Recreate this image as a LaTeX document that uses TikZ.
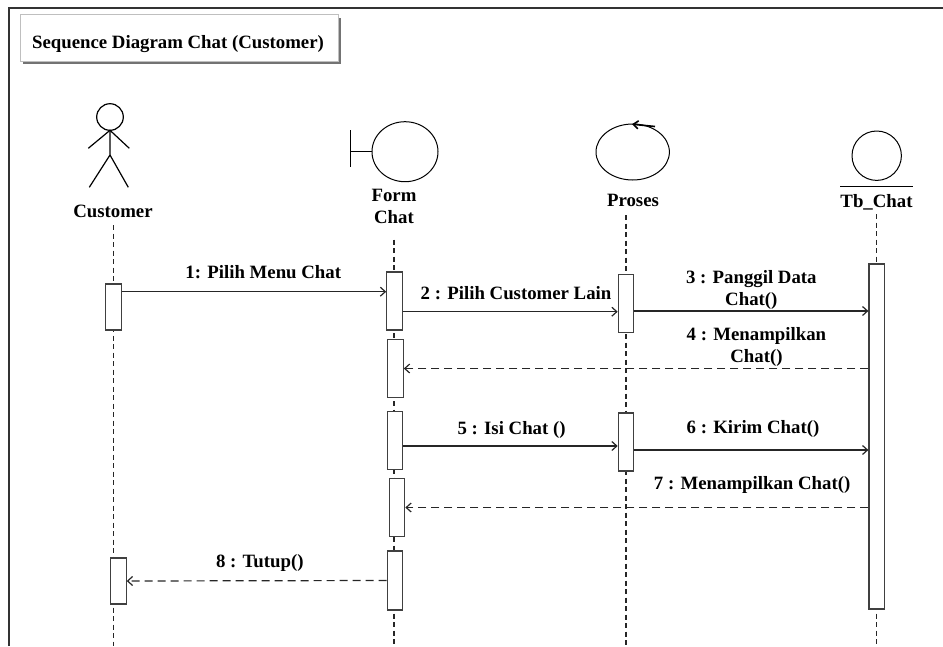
\documentclass[tikz,border=0pt]{standalone}
\usepackage{fontspec}
\setmainfont{Liberation Serif}
\usetikzlibrary{arrows.meta, backgrounds}
\tikzset{
  lbl/.style={font=\bfseries\fontsize{18.8}{21.5}\selectfont, align=center, inner sep=0pt, anchor=base},
  act/.style={draw=black!75, fill=white, line width=1.1pt, minimum width=15.5pt, inner sep=0pt},
  life/.style={draw=black!85, line width=1.1pt, dash pattern=on 5pt off 3.5pt},
  call/.style={draw=black!85, line width=1.2pt, -{Straight Barb[length=5pt,width=9pt]}},
  back/.style={call, dash pattern=on 8pt off 5pt},
  icon/.style={draw=black, line width=1.2pt}
}
\begin{document}
\begin{tikzpicture}[x=1pt, y=-1pt]
  \useasboundingbox (0,0) rectangle (943,646);
  \draw[black!80, line width=1.5pt] (9,646) -- (9,8) -- (943,8);
  \fill[black!55] (23,18) rectangle (341,64);
  \draw[black!25, fill=white] (20,14) rectangle (338,61);
  \node[lbl] (Title) at (178,48.3) {Sequence Diagram Chat (Customer)};

  \node[lbl] (Cust) at (113,217.7) {Customer};
  \node[lbl] (Form) at (394,223.3) {Form\\Chat};
  \node[lbl] (Proses) at (633,206.7) {Proses};
  \node[lbl] (Tb) at (876.5,207.3) {Tb\_Chat};
  \coordinate (bot) at (0,646);

  \draw[icon] (110,117) circle[radius=13.3];
  \draw[icon] (88.3,148.3) -- (110,130.3) -- (129.3,148.3);
  \draw[icon] (110,130.3) -- (110,155) -- (89.3,187.3);
  \draw[icon] (110,155) -- (128.3,187.3);
  \draw[icon, line width=1pt] (350,130) -- (350,167);
  \draw[icon, line width=1pt] (350,151.7) -- (372,151.7);
  \draw[icon, line width=1pt] (405,151.7) ellipse[x radius=33, y radius=30];
  \draw[icon, line width=1pt] (632.7,152) ellipse[x radius=36.7, y radius=28];
  \draw[icon, line width=1.6pt, -{Straight Barb[length=5pt,width=8pt]}] (655,126.5) -- (632,124.2);
  \draw[icon, line width=1pt] (876.7,155.7) circle[radius=24.7];
  \draw[icon, line width=1.5pt] (840,186.7) -- (913,186.7);

  \node[act, minimum height=46] (C1) at (113.5,307) {};
  \node[act, minimum height=46] (C2) at (118.4,581) {};
  \node[act, minimum height=58] (F1) at (394.5,301) {};
  \node[act, minimum height=57.6] (F2) at (395.5,368.5) {};
  \node[act, minimum height=58] (F3) at (395,440.3) {};
  \node[act, minimum height=58.4] (F4) at (397,507.5) {};
  \node[act, minimum height=59] (F5) at (395,580.5) {};
  \node[act, minimum height=58] (P1) at (626,303.3) {};
  \node[act, minimum height=58] (P2) at (626,442) {};
  \node[act, minimum height=345] (T1) at (876.7,436.5) {};

  \begin{scope}[on background layer]
    \draw[life, shorten <=7pt] (Cust.south -| C1) -- (C1 |- bot);
    \draw[life, shorten <=16pt] (Form.south) -- (Form |- bot);
    \draw[life, shorten <=8pt] (Proses.south -| P1) -- (P1 |- bot);
    \draw[life, shorten <=4pt] (Tb.south -| T1) -- (T1 |- bot);
  \end{scope}

  \coordinate (y1) at (0,291.7);
  \coordinate (y2) at (0,311.7);
  \coordinate (y3) at (0,311);
  \coordinate (y5) at (0,446);
  \coordinate (y6) at (0,450);
  \draw[call] (C1.east |- y1) -- node[lbl, pos=.535, yshift=13.7] {1: Pilih Menu Chat} (F1.west |- y1);
  \draw[call] (F1.east |- y2) -- node[lbl, pos=.527, yshift=12.4] {2 : Pilih Customer Lain} (P1.west |- y2);
  \draw[call] (P1.east |- y3) -- node[lbl, pos=.5, yshift=6] {3 : Panggil Data\\Chat()} (T1.west |- y3);
  \draw[back] (T1.west |- F2) -- node[lbl, pos=.241, yshift=6.3] {4 : Menampilkan\\Chat()} (F2.east);
  \draw[call] (F3.east |- y5) -- node[lbl, pos=.505, yshift=11.7] {5 : Isi Chat ()} (P2.west |- y5);
  \draw[call] (P2.east |- y6) -- node[lbl, pos=.507, yshift=16.7] {6 : Kirim Chat()} (T1.west |- y6);
  \draw[back] (T1.west |- F4) -- node[lbl, pos=.251, yshift=18.4] {7 : Menampilkan Chat()} (F4.east);
  \draw[back] (F5.west) -- node[lbl, pos=.488, yshift=13.7] {8 : Tutup()} (C2.east);
\end{tikzpicture}
\end{document}
